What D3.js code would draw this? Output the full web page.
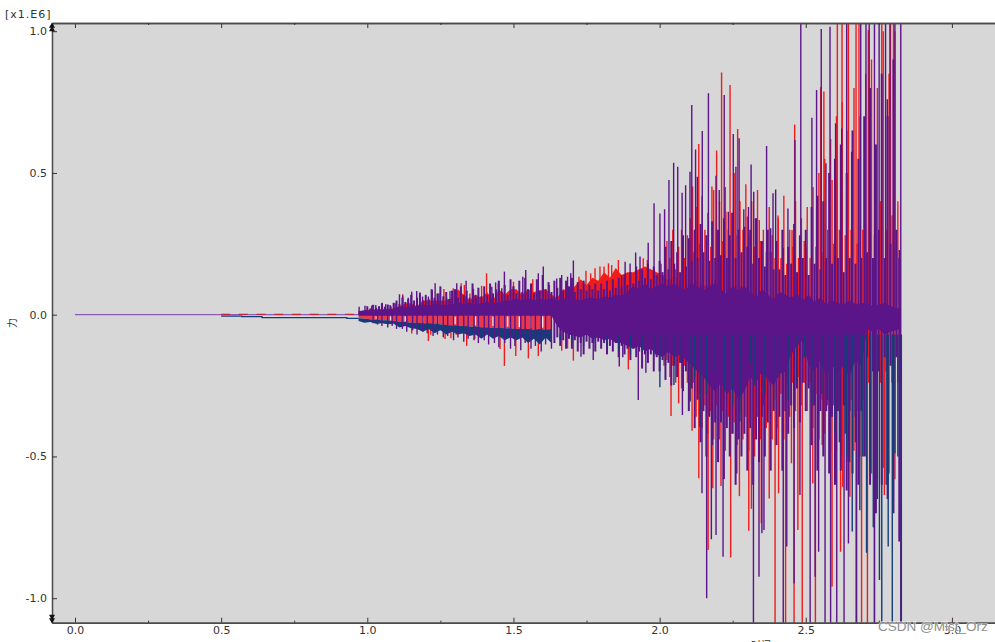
<!doctype html>
<html>
  <head>
    <meta charset="utf-8">
    <title>力 - 时间</title>
    <script src="https://cdnjs.cloudflare.com/ajax/libs/d3/7.8.5/d3.min.js"></script>
    <style>
      html, body { margin: 0; padding: 0; background: #fff; overflow: hidden; }
      text { font-family: "DejaVu Sans", sans-serif; font-size: 11px; fill: #333; }
    </style>
  </head>
  <body>
    <div id="chart"></div>
    <script>
      // values are in units of 1e6
      const xTicks = [0, 0.5, 1, 1.5, 2, 2.5, 3];
      const xMinorTicks = [0.25, 0.75, 1.25, 1.75, 2.25, 2.75];
      const yTicks = [-1, -0.5, 0, 0.5, 1];

      // quiet part before the spikes start
      const baseT = [0, 0.97];
      const baseV = [0, 0];
      const redDashT = [0.5, 0.97];
      const redDashV = [0.001, 0.001];
      const navyStepT = [0.5, 0.57, 0.57, 0.64, 0.64, 0.93, 0.93, 0.97];
      const navyStepV = [-0.005, -0.005, -0.007, -0.007, -0.0105, -0.0105, -0.013, -0.013];

      // dense mass, sampled every 0.02 from 0.97 on
      const coreT = [0.97,0.99,1.01,1.03,1.05,1.07,1.09,
        1.11,1.13,1.15,1.17,1.19,1.21,1.23,1.25,1.27,1.29,
        1.31,1.33,1.35,1.37,1.39,1.41,1.43,1.45,1.47,1.49,
        1.51,1.53,1.55,1.57,1.59,1.61,1.63,1.65,1.67,1.69,
        1.71,1.73,1.75,1.77,1.79,1.81,1.83,1.85,1.87,1.89,
        1.91,1.93,1.95,1.97,1.99,2.01,2.03,2.05,2.07,2.09,
        2.11,2.13,2.15,2.17,2.19,2.21,2.23,2.25,2.27,2.29,
        2.31,2.33,2.35,2.37,2.39,2.41,2.43,2.45,2.47,2.49,
        2.51,2.53,2.55,2.57,2.59,2.61,2.63,2.65,2.67,2.69,
        2.71,2.73,2.75,2.77,2.79,2.825];
      const coreHi = [.012,.016,.014,.018,.016,.018,.02,
        .028,.025,.03,.028,.036,.032,.038,.035,.034,.036,
        .042,.038,.042,.036,.04,.045,.04,.044,.048,.05,
        .055,.05,.058,.05,.056,.052,.06,.05,.058,.055,
        .055,.05,.058,.06,.055,.065,.06,.07,.068,.08,
        .1,.09,.11,.09,.1,.11,.1,.11,.095,.09,
        .11,.1,.085,.1,.11,.09,.07,.1,.085,.1,
        .08,.06,.09,.07,.05,.08,.07,.06,.075,.05,
        .07,.04,.06,.035,.05,.04,.035,.05,.035,.04,
        .04,.03,.035,.04,.03,.02];
      const coreLo = [-.004,-.004,-.004,-.004,-.004,-.004,-.004,
        -.004,-.004,-.004,-.004,-.004,-.004,-.004,-.004,-.004,-.004,
        -.004,-.004,-.004,-.004,-.004,-.004,-.004,-.004,-.004,-.004,
        -.004,-.004,-.004,-.004,-.004,-.004,-.004,-.04,-.06,-.07,
        -.075,-.08,-.07,-.085,-.08,-.09,-.085,-.1,-.1,-.11,
        -.12,-.11,-.13,-.12,-.14,-.15,-.13,-.15,-.14,-.16,
        -.18,-.2,-.22,-.25,-.27,-.24,-.28,-.26,-.3,-.27,
        -.22,-.24,-.2,-.23,-.25,-.21,-.2,-.14,-.11,-.09,
        -.18,-.2,-.16,-.22,-.18,-.2,-.18,-.22,-.16,-.18,
        -.05,-.06,-.05,-.07,-.06,-.05];
      const redCoreHi = [.012,.014,.018,.018,.02,.02,.022,
        .03,.04,.04,.03,.05,.05,.05,.05,.05,.06,
        .09,.07,.05,.07,.06,.08,.05,.09,.07,.09,
        .09,.07,.09,.08,.085,.09,.07,.06,.09,.085,
        .1,.125,.105,.13,.12,.15,.13,.165,.14,.15,
        .15,.16,.17,.16,.15,.14,.12,.14,.12,.12,
        .1,.12,.1,.11,.12,.1,.09,.1,.1,.1,
        .08,.07,.09,.07,.06,.08,.07,.06,.07,.05,
        .07,.05,.06,.04,.05,.04,.04,.05,.04,.04,
        .04,.03,.04,.04,.03,.02];

      // striped red band and navy band under it, first 34 samples of coreT
      const bandT = coreT.slice(0, 34);
      const bandLo = [-.012,-.014,-.016,-.018,-.02,-.02,-.022,-.024,-.026,-.028,-.028,-.03,-.03,-.032,-.034,-.036,-.038,
        -.038,-.04,-.042,-.042,-.044,-.044,-.046,-.046,-.048,-.048,-.05,-.05,-.05,-.052,-.05,-.052,-.05];
      const navyBandLo = [-.022,-.028,-.026,-.032,-.03,-.034,-.032,-.045,-.04,-.048,-.05,-.06,-.05,-.065,-.055,-.07,-.06,
        -.07,-.065,-.075,-.07,-.085,-.07,-.085,-.075,-.09,-.08,-.09,-.08,-.1,-.085,-.105,-.08,-.1];
      const paleT = [1.03,1.08,1.13,1.19,1.24,1.3,1.37,1.43,1.48,1.52,1.56,1.6];
      const paleV = [-.014,-.02,-.024,-.028,-.03,-.034,-.038,-.04,-.042,-.044,-.046,-.046];

      // medium spikes on a 0.01 grid, they make up the rough edge of the mass
      const midHiStart = 1.0;
      const purpleMidHi = [
        .03,.022,.035,.025,.03,.04,.028,.036,.03,.042,
        .05,.038,.06,.045,.055,.07,.05,.06,.078,.05,
        .07,.055,.09,.06,.075,.1,.065,.08,.055,.085,
        .09,.06,.1,.07,.085,.06,.11,.07,.095,.065,
        .1,.07,.11,.075,.09,.12,.08,.105,.07,.125,
        .1,.075,.12,.08,.13,.09,.11,.075,.125,.085,
        .14,.09,.115,.08,.12,.095,.13,.085,.12,.1,
        .13,.08,.115,.09,.12,.085,.105,.09,.11,.085,
        .11,.09,.12,.085,.125,.095,.13,.1,.14,.105,
        .15,.11,.17,.12,.16,.13,.18,.125,.17,.14,
        .19,.15,.24,.16,.26,.18,.22,.15,.28,.17,
        .27,.19,.3,.2,.32,.22,.28,.19,.33,.2,
        .3,.21,.34,.2,.28,.36,.2,.3,.22,.31,
        .24,.3,.18,.34,.2,.26,.17,.3,.22,.16,
        .26,.16,.3,.14,.24,.18,.32,.15,.28,.2,
        .3,.14,.38,.18,.42,.16,.4,.2,.5,.18,
        .55,.2,.6,.15,.5,.2,.65,.18,.55,.2,
        .7,.22,.8,.2,.6,.3,.85,.2,.7,.25,
        .9,.3,.2];
      const midLoStart = 1.64;
      const purpleMidLo = [
        -.1,-.08,-.11,-.09,-.12,-.085,
        -.12,-.09,-.13,-.1,-.14,-.095,-.12,-.1,-.13,-.095,
        -.12,-.1,-.14,-.11,-.13,-.1,-.15,-.11,-.14,-.12,
        -.16,-.12,-.15,-.13,-.19,-.14,-.17,-.14,-.2,-.15,
        -.2,-.16,-.23,-.17,-.25,-.18,-.22,-.17,-.27,-.2,
        -.34,-.26,-.4,-.3,-.45,-.34,-.5,-.36,-.46,-.38,
        -.52,-.38,-.58,-.4,-.5,-.42,-.6,-.44,-.5,-.42,
        -.55,-.4,-.6,-.44,-.52,-.36,-.5,-.38,-.55,-.34,
        -.46,-.36,-.55,-.34,-.42,-.32,-.4,-.26,-.38,-.24,
        -.34,-.26,-.46,-.32,-.55,-.34,-.5,-.34,-.56,-.36,
        -.6,-.34,-.55,-.32,-.62,-.34,-.56,-.36,-.6,-.34,
        -.5,-.15,-.6,-.2,-.7,-.2,-.6,-.15,-.65,-.18,
        -.7,-.15,-.8];
      const redMidStart = 2.005;
      const redMidHi = [
        .18,.14,.26,.2,.3,.16,.24,.3,.2,.28,
        .34,.22,.38,.25,.42,.3,.36,.24,.44,.3,
        .4,.26,.45,.3,.36,.5,.28,.4,.3,.46,
        .28,.4,.24,.44,.26,.3,.22,.38,.28,.2,
        .35,.2,.42,.18,.3,.24,.4,.2,.34,.26,
        .38,.2,.45,.24,.5,.22,.55,.3,.62,.25,
        .7,.3,.75,.28,.65,.3,.8,.25,.7,.3,
        .85,.3,.9,.28,.8,.4,1.0,.3,.85,.35,
        1.0,.4];
      const redMidLo = [
        -.14,-.18,-.16,-.22,-.18,-.24,-.16,-.26,-.18,-.24,
        -.3,-.24,-.36,-.28,-.4,-.32,-.42,-.34,-.44,-.32,
        -.44,-.34,-.48,-.36,-.42,-.38,-.46,-.34,-.44,-.36,
        -.48,-.34,-.5,-.36,-.44,-.32,-.4,-.34,-.44,-.3,
        -.4,-.28,-.44,-.24,-.36,-.24,-.34,-.22,-.32,-.24,
        -.34,-.24,-.4,-.28,-.44,-.3,-.42,-.32,-.48,-.32,
        -.48,-.32,-.5,-.32,-.52,-.3,-.48,-.34,-.5,-.3,
        -.5,-.24,-.56,-.24,-.58,-.24,-.54,-.2,-.56,-.24,
        -.58,-.24];

      // big spikes above zero
      const purpleHiT = [.972,.992,1.015,1.029,1.051,1.063,1.078,1.095,1.11,1.121,1.14,1.152,1.169,1.189,1.209,1.222,1.232,1.245,1.272,1.283,1.306,1.338,1.363,1.374,1.426,1.439,1.46,1.469,
        1.5,1.532,1.542,1.585,1.602,1.648,1.665,1.685,1.696,1.705,1.87,1.882,1.899,1.918,1.933,1.961,
        1.981,2.001,2.017,2.032,2.048,2.062,2.077,2.089,2.104,2.11,2.123,2.129,2.146,2.167,2.193,2.204,2.221,2.235,2.252,2.261,2.272,2.288,2.304,2.313,2.322,2.328,
        2.366,2.38,2.388,2.397,2.423,2.439,2.463,2.483,2.521,2.537,2.553,2.569,2.583,2.602,2.623,2.64,2.657,2.688,2.706,2.717,2.735,2.751,2.773,2.779,2.788,2.805,2.82,2.825];
      const purpleHiV = [.028,.032,.032,.034,.042,.037,.034,.04,.072,.067,.06,.081,.084,.064,.064,.087,.111,.075,.058,.084,.111,.12,.091,.058,.099,.114,.093,.152,
        .1,.134,.158,.146,.17,.128,.14,.134,.146,.191,.14,.187,.181,.219,.205,.254,
        .393,.357,.372,.475,.536,.522,.43,.457,.504,.74,.583,.487,.648,.781,.49,.44,.775,.363,.637,.522,.622,.372,.38,.53,.434,.34,
        .595,.305,.428,.442,.234,.375,.616,1.2,.695,.793,1.008,.534,1.016,.675,.657,1.2,.575,1.2,1.2,1.2,1.2,1.2,1.2,.76,1.2,1.2,.228,1.2];
      const redHiT = [1.121,1.262,1.294,1.321,1.332,1.351,1.391,1.408,1.448,1.5,1.566,1.623,1.724,1.748,1.764,1.779,1.796,1.81,1.825,1.836,1.859,1.944,1.958,
        2.113,2.134,2.179,2.195,2.212,2.227,2.241,2.267,2.3,2.341,2.406,2.453,2.462,2.501,2.551,2.562,2.59,2.608,2.624,2.646,2.672,2.682,2.714,2.76,2.79,2.8];
      const redHiV = [.072,.091,.093,.111,.105,.075,.102,.146,.111,.116,.125,.105,.134,.155,.146,.164,.17,.17,.181,.175,.193,.199,.193,
        .452,.602,.452,.579,.854,.363,.81,.655,.346,.334,.34,.299,.671,.236,.802,.787,.475,1.2,1.2,1.2,1.2,1.2,1.004,1.2,1.2,1.2];

      // big spikes below zero
      const purpleLoT = [1.02,1.035,1.05,1.07,1.085,1.1,1.12,1.135,1.155,1.17,1.19,1.205,1.225,1.24,1.26,1.275,1.295,1.31,1.33,1.345,1.365,1.38,1.4,1.415,1.435,1.45,1.47,1.49,1.505,1.525,1.54,1.56,1.575,1.595,1.61,1.63,
        1.731,1.773,1.862,1.874,1.927,1.953,2.078,2.145,2.161,2.177,2.193,2.217,2.264,2.321,2.34,2.35,2.357,2.423,2.435,2.46,2.48,2.515,2.532,2.544,2.566,2.585,2.606,2.631,2.646,2.674,2.735,2.825];
      const purpleLoV = [-.03,-.035,-.04,-.045,-.04,-.05,-.05,-.06,-.055,-.07,-.06,-.065,-.075,-.07,-.08,-.075,-.09,-.08,-.095,-.085,-.09,-.1,-.09,-.105,-.1,-.115,-.1,-.12,-.11,-.125,-.1,-.12,-.11,-.13,-.105,-.12,
        -.148,-.16,-.183,-.15,-.301,-.205,-.354,-.63,-1.0,-.792,-.777,-.854,-.56,-1.3,-.924,-.771,-.759,-1.3,-.818,-.948,-.636,-1.3,-.924,-.836,-1.3,-1.3,-1.3,-1.3,-.807,-1.3,-1.3,-1.3];
      const redLoT = [1.152,1.209,1.217,1.266,1.286,1.304,1.34,1.368,1.454,1.469,1.508,1.551,1.585,1.665,1.685,1.705,1.893,
        2.039,2.065,2.111,2.134,2.166,2.182,2.21,2.243,2.273,2.305,2.314,2.348,2.375,2.395,2.407,2.431,2.451,2.46,2.473,2.488,2.524,2.533,2.556,2.59,2.619,2.626,2.651,2.672,2.691,2.711,2.735,2.769,2.822];
      const redLoV = [-.066,-.093,-.071,-.086,-.083,-.071,-.11,-.086,-.121,-.181,-.146,-.154,-.146,-.127,-.119,-.162,-.193,
        -.357,-.313,-.409,-.577,-.83,-.612,-.604,-.856,-.64,-.762,-.685,-.736,-.648,-1.3,-.63,-1.3,-.524,-1.3,-.759,-1.3,-.595,-1.3,-.46,-.959,-.836,-.607,-.642,-1.3,-1.3,-1.3,-1.3,-.636,-.428];
      const navyLoT = [1.66,1.7,1.74,1.78,1.82,1.86,1.9,1.94,1.985,2.001,2.02,2.049,2.074,2.104,2.12,2.138,2.16,2.19,2.223,2.25,2.275,2.31,2.326,2.36,2.39,2.41,2.44,2.47,2.495,2.525,2.555,2.575,2.6,2.615,2.635,2.64,2.65,2.659,2.67,2.685,2.695,2.708,2.72,2.731,2.745,2.752,2.76,2.775,2.782,2.796,2.805,2.815,2.827];
      const navyLoV = [-.09,-.1,-.11,-.1,-.11,-.12,-.14,-.13,-.14,-.256,-.18,-.248,-.17,-.307,-.22,-.395,-.28,-.2,-.27,-.32,-.377,-.17,-.25,-.28,-.33,-.22,-.3,-.24,-.15,-.32,-.28,-.3,-.42,-.45,-.42,-.5,-.52,-.765,-.45,-.69,-.5,-.84,-.55,-.75,-.65,-.936,-1.3,-.6,-.818,-1.3,-.489,-.5,-1.3];
      const navyTop = -0.07;

      const width = 995, height = 642;
      const plot = { left: 52, right: 995, top: 23, bottom: 622.7 };

      const x = d3.scaleLinear().domain([-0.0787, 3.1474]).range([plot.left, plot.right]);
      const y = d3.scaleLinear().domain([-1.0864, 1.0289]).range([plot.bottom, plot.top]);

      const purple = '#5c1489', red = '#f01c1c', navy = '#143c78';

      const svg = d3.select('#chart').append('svg')
        .attr('width', width)
        .attr('height', height)
        .style('display', 'block');

      svg.append('defs').append('clipPath').attr('id', 'plot-clip')
        .append('rect')
        .attr('x', plot.left)
        .attr('y', plot.top)
        .attr('width', plot.right - plot.left)
        .attr('height', plot.bottom - plot.top);

      svg.append('rect')
        .attr('x', plot.left)
        .attr('y', plot.top)
        .attr('width', plot.right - plot.left)
        .attr('height', plot.bottom - plot.top)
        .attr('fill', '#d7d7d7');

      const marks = svg.append('g').attr('clip-path', 'url(#plot-clip)');

      const pairs = (ts, vs) => ts.map((t, i) => ({ t, v: vs[i] }));
      const grid = (start, vs) => vs.map((v, i) => ({ t: start + i * 0.01, v }));

      const drawLine = (ts, vs, color, dash) => {
        marks.append('path')
          .datum(pairs(ts, vs))
          .attr('fill', 'none')
          .attr('stroke', color)
          .attr('stroke-width', 1.3)
          .attr('stroke-dasharray', dash || null)
          .attr('d', d3.line().x(d => x(d.t)).y(d => y(d.v)));
      };

      const drawSpikes = (rows, color, from, width) => {
        marks.append('g').selectAll('line')
          .data(rows)
          .join('line')
          .attr('x1', d => x(d.t))
          .attr('x2', d => x(d.t))
          .attr('y1', y(from))
          .attr('y2', d => y(d.v))
          .attr('stroke', color)
          .attr('stroke-width', width || 1.4);
      };

      const drawArea = (ts, hi, lo, color) => {
        marks.append('path')
          .datum(ts.map((t, i) => ({ t, hi: hi[i], lo: lo[i] })))
          .attr('fill', color)
          .attr('d', d3.area().x(d => x(d.t)).y0(d => y(d.lo)).y1(d => y(d.hi)));
      };

      // quiet part
      drawLine(baseT, baseV, '#8a5cb4');
      drawLine(navyStepT, navyStepV, navy);
      drawLine(redDashT, redDashV, '#c8203c', '9,8.7');

      // back to front: red, bands, purple, navy
      drawArea(coreT, redCoreHi, coreT.map(() => 0), red);
      drawSpikes(grid(redMidStart, redMidHi), red, 0);
      drawSpikes(grid(redMidStart, redMidLo), red, 0);
      drawSpikes(pairs(redHiT, redHiV), red, 0);
      drawSpikes(pairs(redLoT, redLoV), red, 0);
      drawArea(bandT, bandT.map(() => 0), bandLo, '#e8384c');
      drawArea(bandT, bandLo, navyBandLo, navy);
      drawSpikes(pairs(paleT, paleV), '#f4e6ee', -0.006);
      drawSpikes(grid(midHiStart, purpleMidHi), purple, 0, 2);
      drawSpikes(grid(midLoStart, purpleMidLo), purple, 0, 2);
      drawSpikes(pairs(purpleHiT, purpleHiV), purple, 0);
      drawSpikes(pairs(purpleLoT, purpleLoV), purple, 0);
      drawArea(coreT, coreHi, coreLo, purple);
      drawSpikes(pairs(navyLoT, navyLoV), navy, navyTop);

      // axes, ticks point into the plot
      const fmt = d => d3.format('.1f')(d).replace('−', '-');

      const axisParts = [
        d3.axisBottom(x).tickValues(xTicks).tickSize(-5).tickSizeOuter(0).tickPadding(4).tickFormat(fmt),
        d3.axisBottom(x).tickValues(xMinorTicks).tickSize(-2).tickSizeOuter(0).tickFormat('')
      ];
      axisParts.forEach(a => svg.append('g').attr('class', 'axis').attr('transform', `translate(0,${plot.bottom})`).call(a));

      const topParts = [
        d3.axisTop(x).tickValues(xTicks).tickSize(-5).tickSizeOuter(0).tickFormat(''),
        d3.axisTop(x).tickValues(xMinorTicks).tickSize(-2).tickSizeOuter(0).tickFormat('')
      ];
      topParts.forEach(a => svg.append('g').attr('class', 'axis').attr('transform', `translate(0,${plot.top})`).call(a));

      svg.append('g').attr('class', 'axis')
        .attr('transform', `translate(${plot.left},0)`)
        .call(d3.axisLeft(y).tickValues(yTicks).tickSize(-5).tickSizeOuter(0).tickPadding(5).tickFormat(fmt));

      svg.selectAll('.axis .domain').attr('stroke', '#4a4a4a').attr('stroke-width', 1.5);
      svg.selectAll('.axis line').attr('stroke', '#333');
      svg.selectAll('.axis text').attr('fill', '#333').style('font-size', '11px').style('font-family', '"DejaVu Sans", sans-serif');

      // the little limit arrows on the value axis
      const arrow = d3.symbol().type(d3.symbolTriangle).size(16);
      [[26, 1], [29.5, 1], [616.5, -1], [620, -1]].forEach(([py, dir]) => {
        svg.append('path')
          .attr('d', arrow())
          .attr('fill', '#111')
          .attr('transform', `translate(${plot.left},${py}) scale(1,${dir})`);
      });

      svg.append('text').attr('x', 5).attr('y', 18).style('letter-spacing', '1px').text('[x1.E6]');

      svg.append('text')
        .attr('transform', 'translate(16,323) rotate(-90)')
        .attr('text-anchor', 'middle')
        .style('font-family', '"Noto Sans CJK SC"')
        .style('font-size', '10px')
        .text('力');

      svg.append('text')
        .attr('x', 761)
        .attr('y', 649)
        .attr('text-anchor', 'middle')
        .style('font-family', '"Noto Sans CJK SC"')
        .style('font-size', '10px')
        .text('时间');

      svg.append('text')
        .attr('x', 878)
        .attr('y', 631)
        .style('font-family', '"Liberation Sans", sans-serif')
        .style('font-size', '13.5px')
        .style('fill', '#8e8e8e')
        .style('stroke', '#ffffff')
        .style('stroke-width', 1.5)
        .style('stroke-opacity', 0.6)
        .style('paint-order', 'stroke')
        .text('CSDN @Mist_Orz');
    </script>
  </body>
</html>
